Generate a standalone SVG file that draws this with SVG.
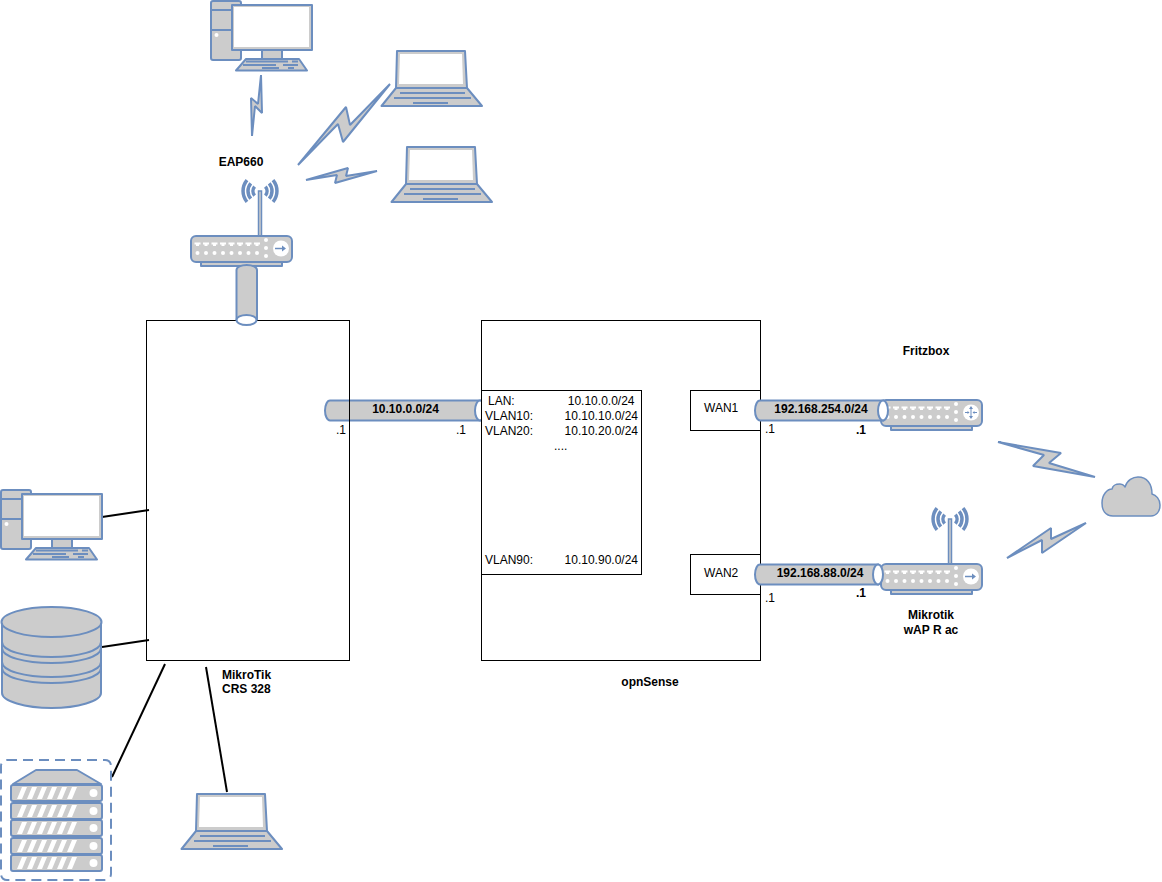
<svg xmlns="http://www.w3.org/2000/svg" width="1162" height="882" viewBox="0 0 1162 882">
<style>
text{font-family:"Liberation Sans",Arial,sans-serif;font-size:12px;fill:#000}
.b{font-weight:bold}.m{text-anchor:middle}.e{text-anchor:end}
.s{fill:#ccc;stroke:#6c8ebf;stroke-width:2;stroke-linejoin:round}
.t{fill:#ccc;stroke:#6c8ebf;stroke-width:2}
.bolt{fill:#ccc;stroke:#6c8ebf;stroke-width:2;stroke-linejoin:bevel}
.w{fill:#fff;stroke:none}
.ln{fill:none;stroke:#6c8ebf;stroke-width:2}
.box{fill:none;stroke:#000;stroke-width:1}
.wbox{fill:#fff;stroke:#000;stroke-width:1}
.c{stroke:#000;stroke-width:2;fill:none}
</style>
<defs>
<g id="desk">
<rect class="s" x="1" y="1" width="30" height="59" rx="2"/>
<path class="ln" d="M1 10H22M1 30H22"/>
<circle class="w" cx="6.500" cy="35" r="2"/>
<rect class="s" x="22" y="5" width="80" height="45"/>
<rect x="24" y="7" width="75" height="40" fill="#fff"/>
<rect class="s" x="52" y="50" width="20" height="9"/>
<path class="s" d="M26 70.500L36 59H89L97 70.500Z"/>
<path class="ln" d="M36 61.500H78M82 61.500H88M33 65H66M73 65H88M52 68H69M78 68H84" stroke-width="1.500"/>
</g>
<g id="laptop">
<path class="s" d="M16 1H84L86 38H15Z"/>
<path fill="#fff" d="M19 4H81L82 34H18Z"/>
<path class="s" d="M15 38H86L101 56H0.500Z"/>
<path class="ln" d="M19 43H84M13 48H90M32 53H67"/>
</g>
<g id="router">
<rect class="s" x="10" y="24" width="81" height="6"/>
<rect class="s" x="0" y="0" width="101" height="26" rx="5"/>
<g fill="#fff">
<path id="pt" d="M3.500 6.500H9.500V8.500H8V10H5V8.500H3.500Z"/>
<use href="#pt" x="8.500"/><use href="#pt" x="17"/><use href="#pt" x="25.500"/><use href="#pt" x="34"/><use href="#pt" x="42.500"/><use href="#pt" x="51"/><use href="#pt" x="59.500"/>
<circle cx="6.500" cy="17" r="2"/><circle cx="15" cy="17" r="2"/><circle cx="23.500" cy="17" r="2"/><circle cx="32" cy="17" r="2"/><circle cx="40.500" cy="17" r="2"/><circle cx="49" cy="17" r="2"/><circle cx="57.500" cy="17" r="2"/><circle cx="66" cy="17" r="2"/>
<circle cx="75" cy="4" r="2"/><circle cx="75" cy="12" r="2"/><circle cx="75" cy="20" r="2"/>
<circle cx="90" cy="12.500" r="8"/>
</g>
</g>
<g id="wifi">
<path d="M-5.400-4.500A7 7 0 0 0-5.400 4.500M-9.200-7.700A12 12 0 0 0-9.200 7.700M-13-10.900A17 17 0 0 0-13 10.900M5.400-4.500A7 7 0 0 1 5.400 4.500M9.200-7.700A12 12 0 0 1 9.200 7.700M13-10.900A17 17 0 0 1 13 10.900" fill="none" stroke="#6c8ebf" stroke-width="3.500"/>
<rect x="-1.500" y="0" width="3" height="45" fill="#ccc" stroke="#6c8ebf" stroke-width="1.500"/>
</g>
<g id="arr"><path d="M-5 0H3" stroke="#6c8ebf" stroke-width="1.500"/><path d="M6 0L2-3V3Z" fill="#6c8ebf"/></g>
<g id="slot">
<rect class="s" x="11" y="0" width="91" height="16" rx="2"/>
<path class="w" d="M17 14L22 2H27L22 14ZM27 14L32 2H37L32 14ZM37 14L42 2H47L42 14ZM47 14L52 2H57L52 14ZM57 14L62 2H67L62 14ZM67 14L72 2H77L72 14Z"/>
<circle class="w" cx="93.500" cy="8" r="4"/>
</g>
</defs>
<g id="connectors">
<line class="c" x1="102" y1="517" x2="149" y2="510"/>
<line class="c" x1="102" y1="647" x2="149" y2="640"/>
<line class="c" x1="165" y1="664" x2="112" y2="777"/>
<line class="c" x1="206" y1="667" x2="227" y2="792"/>
</g>
<g id="tube-lan">
<path class="t" d="M483 400.500H330A5 10 0 0 0 330 420.500H483Z"/>
<ellipse cx="480" cy="410.500" rx="5" ry="10" fill="#fff" stroke="#6c8ebf" stroke-width="2"/>
</g>
<g id="mikrotik-switch">
<rect class="box" x="146.500" y="320.500" width="203" height="340"/>
<text class="b" x="222" y="679">MikroTik</text>
<text class="b" x="222" y="693">CRS 328</text>
</g>
<g id="opnsense">
<rect class="box" x="481.500" y="320.500" width="279" height="340"/>
<text class="b m" x="650" y="686">opnSense</text>
</g>
<g id="lan-box">
<rect class="wbox" x="481.500" y="390.500" width="160" height="184"/>
<text x="488" y="405">LAN:</text><text class="e" x="634.500" y="405">10.10.0.0/24</text>
<text x="485" y="420">VLAN10:</text><text class="e" x="638" y="420">10.10.10.0/24</text>
<text x="485" y="435">VLAN20:</text><text class="e" x="638" y="435">10.10.20.0/24</text>
<text x="554" y="450">....</text>
<text x="485" y="564">VLAN90:</text><text class="e" x="638" y="564">10.10.90.0/24</text>
</g>
<g id="wan1">
<rect class="wbox" x="690.500" y="390.500" width="70" height="40"/>
<text x="704" y="412">WAN1</text>
</g>
<g id="wan2">
<rect class="wbox" x="690.500" y="554.500" width="70" height="40"/>
<text x="704" y="577">WAN2</text>
</g>
<g id="fritzbox">
<use href="#router" x="881" y="400"/>
<g stroke="#6c8ebf" stroke-width="1" fill="none"><path d="M971 407.500V417.500M965 412.500H969M973 412.500H977"/></g>
<g fill="#6c8ebf"><path d="M971 406L969 409H973ZM971 419L969 416H973ZM969.500 412.500L967.500 411V414ZM972.500 412.500L974.500 411V414Z"/></g>
<text class="b m" x="926" y="355">Fritzbox</text>
</g>
<g id="mikrotik-wap">
<use href="#wifi" x="950" y="519"/>
<use href="#router" x="881" y="564"/>
<use href="#arr" x="970" y="576.500"/>
<text class="b m" x="931" y="619">Mikrotik</text>
<text class="b m" x="931" y="634">wAP R ac</text>
</g>
<g id="tube-wan1">
<path class="t" d="M883 400.500H760A5 10 0 0 0 760 420.500H883Z"/>
<ellipse cx="883" cy="410.500" rx="5" ry="10" fill="#fff" stroke="#6c8ebf" stroke-width="2"/>
<text class="b m" x="821" y="413">192.168.254.0/24</text>
</g>
<g id="tube-wan2">
<path class="t" d="M878 564.500H760A5 10 0 0 0 760 584.500H878Z"/>
<ellipse cx="878" cy="574.500" rx="5" ry="10" fill="#fff" stroke="#6c8ebf" stroke-width="2"/>
<text class="b m" x="820" y="577">192.168.88.0/24</text>
</g>
<g id="labels">
<text class="b m" x="405.500" y="413">10.10.0.0/24</text>
<text x="336" y="434">.1</text>
<text x="456" y="434">.1</text>
<text x="765" y="433">.1</text>
<text class="b" x="856" y="434">.1</text>
<text x="765" y="602">.1</text>
<text class="b" x="856" y="597">.1</text>
</g>
<g id="eap660">
<text class="b m" x="241" y="166">EAP660</text>
<use href="#wifi" x="260" y="191"/>
<use href="#router" x="191" y="236"/>
<use href="#arr" x="280" y="248.500"/>
<path class="t" d="M236.500 320V270A10 5 0 0 1 257 270V320"/>
<ellipse cx="246.500" cy="320" rx="10" ry="5" fill="#fff" stroke="#6c8ebf" stroke-width="2"/>
</g>
<g id="desktop-top"><use href="#desk" x="210" y="0"/></g>
<g id="laptop-1"><use href="#laptop" x="381" y="50"/></g>
<g id="laptop-2"><use href="#laptop" x="391" y="146"/></g>
<g id="laptop-3"><use href="#laptop" x="181" y="793"/></g>
<g id="desktop-left"><use href="#desk" x="0" y="489"/></g>
<g id="bolts">
<polygon class="bolt" points="261,75 262,113 255,106 252,136 251,98 258,104"/>
<polygon class="bolt" points="298,165 346,107 350,125 390,84 343,142 338,124"/>
<polygon class="bolt" points="306,180 348,168 346,176 377,171 335,183 337,175"/>
<polygon class="bolt" points="998,442 1061,453 1049,463 1095,477 1033,466 1044,455"/>
<polygon class="bolt" points="1007,558 1051,528 1051,539 1086,523 1042,553 1042,540"/>
</g>
<g id="cloud">
<path class="s" d="M1113 516C1105 516 1102 510 1102 503C1102 495 1107 489 1112 489C1113 484 1117 484 1120 484C1124 484 1124 486 1125 487C1127 480 1133 477 1138 477C1147 477 1152 484 1152 494C1156 495 1160 499 1160 505C1160 512 1156 516 1151 516Z" style="stroke-width:1.500px"/>
</g>
<g id="database">
<path class="s" d="M2 622V693C2 701 25 708 51.500 708C78 708 101 701 101 693V622"/>
<ellipse class="s" cx="51.500" cy="622" rx="50" ry="15"/>
<path class="ln" d="M2 642C2 651 25 657 51.500 657C78 657 101 651 101 642M2 648C2 657 25 663 51.500 663C78 663 101 657 101 648M2 662C2 671 25 677 51.500 677C78 677 101 671 101 662M2 668C2 677 25 683 51.500 683C78 683 101 677 101 668"/>
</g>
<g id="server-rack">
<rect x="1" y="760" width="110" height="120" rx="6" fill="none" stroke="#6c8ebf" stroke-width="2" stroke-dasharray="10 6"/>
<path class="s" d="M13 784L36 770H77L101 784Z"/>
<use href="#slot" y="785"/><use href="#slot" y="803"/><use href="#slot" y="820"/><use href="#slot" y="838"/><use href="#slot" y="855"/>
</g>
</svg>
